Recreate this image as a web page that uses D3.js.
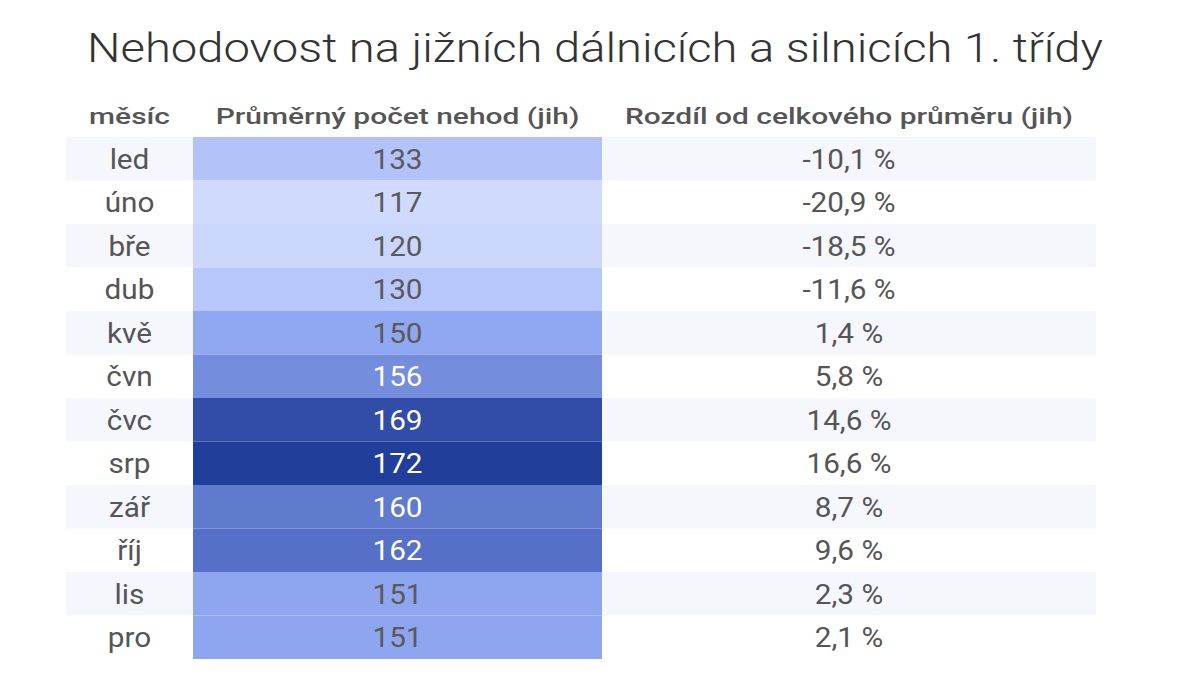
<!DOCTYPE html>
<html>
<head>
<meta charset="utf-8">
<script src="https://cdn.jsdelivr.net/npm/d3@7"></script>
<style>
  body { margin: 0; background: #fff; }
  svg { display: block; font-family: Roboto, "Noto Sans", sans-serif; }
</style>
</head>
<body>
<div id="chart"></div>
<script>
// Data
const months = ["led", "úno", "bře", "dub", "kvě", "čvn", "čvc", "srp", "zář", "říj", "lis", "pro"];
const avgCounts = [133, 117, 120, 130, 150, 156, 169, 172, 160, 162, 151, 151];
const diffs = [-10.1, -20.9, -18.5, -11.6, 1.4, 5.8, 14.6, 16.6, 8.7, 9.6, 2.3, 2.1];
const headers = ["měsíc", "Průměrný počet nehod (jih)", "Rozdíl od celkového průměru (jih)"];
const title = "Nehodovost na jižních dálnicích a silnicích 1. třídy";

// Layout
const width = 1200, height = 697;
const colEdges = [66, 193, 602, 1096];
const tableTop = 137, tableBottom = 659;
const colMid = i => (colEdges[i] + colEdges[i + 1]) / 2;

const svg = d3.select("#chart")
  .append("svg")
  .attr("width", width)
  .attr("height", height);

const y = d3.scaleBand()
  .domain(months)
  .range([tableTop, tableBottom]);

// heat colour for the count column
const color = d3.scaleLinear()
  .domain([117, 133, 151, 162, 172])
  .range(["#cfdafd", "#b3c3fa", "#8ea5f0", "#5670c7", "#223e9b"]);

const fmt = v => d3.format(".1f")(v).replace(".", ",").replace("−", "-") + " %";

const rows = months.map((m, i) => ({ month: m, count: avgCounts[i], diff: diffs[i], i }));

// the source picture is a little stretched sideways
const place = (x, yy, sx) => `translate(${x},${yy}) scale(${sx},1)`;

// Title
svg.append("text")
  .attr("transform", place(595, 62, 1.15))
  .attr("text-anchor", "middle")
  .style("font-size", "41px")
  .style("font-weight", 300)
  .style("fill", "#333")
  .text(title);

// Headers
svg.selectAll(".header")
  .data(headers)
  .enter()
  .append("text")
  .attr("class", "header")
  .attr("transform", (d, i) => place(colMid(i), 124, 1.33))
  .attr("text-anchor", "middle")
  .style("font-size", "22.5px")
  .style("font-weight", 500)
  .style("fill", "#555")
  .text(d => d);

// Striped background for odd rows
svg.selectAll(".stripe")
  .data(rows.filter(d => d.i % 2 === 0))
  .enter()
  .append("rect")
  .attr("class", "stripe")
  .attr("x", colEdges[0])
  .attr("y", d => y(d.month))
  .attr("width", colEdges[3] - colEdges[0])
  .attr("height", y.bandwidth())
  .attr("fill", "#f5f7fc");

// Heat cells
svg.selectAll(".cell")
  .data(rows)
  .enter()
  .append("rect")
  .attr("class", "cell")
  .attr("x", colEdges[1])
  .attr("y", d => y(d.month))
  .attr("width", colEdges[2] - colEdges[1])
  .attr("height", y.bandwidth())
  .attr("fill", d => color(d.count));

const textY = d => y(d.month) + y.bandwidth() / 2 + 10;
const bodySx = 1.08;

// Month labels
svg.selectAll(".month")
  .data(rows)
  .enter()
  .append("text")
  .attr("class", "month")
  .attr("transform", d => place(colMid(0), textY(d), bodySx))
  .attr("text-anchor", "middle")
  .style("font-size", "27.5px")
  .style("fill", "#555")
  .text(d => d.month);

// Counts
svg.selectAll(".count")
  .data(rows)
  .enter()
  .append("text")
  .attr("class", "count")
  .attr("transform", d => place(colMid(1), textY(d), bodySx))
  .attr("text-anchor", "middle")
  .style("font-size", "27.5px")
  .style("fill", d => d.count >= 155 ? "#fff" : "#5a5a5a")
  .text(d => d.count);

// Differences
svg.selectAll(".diff")
  .data(rows)
  .enter()
  .append("text")
  .attr("class", "diff")
  .attr("transform", d => place(colMid(2), textY(d), bodySx))
  .attr("text-anchor", "middle")
  .style("font-size", "27.5px")
  .style("fill", "#555")
  .text(d => fmt(d.diff));
</script>
</body>
</html>
